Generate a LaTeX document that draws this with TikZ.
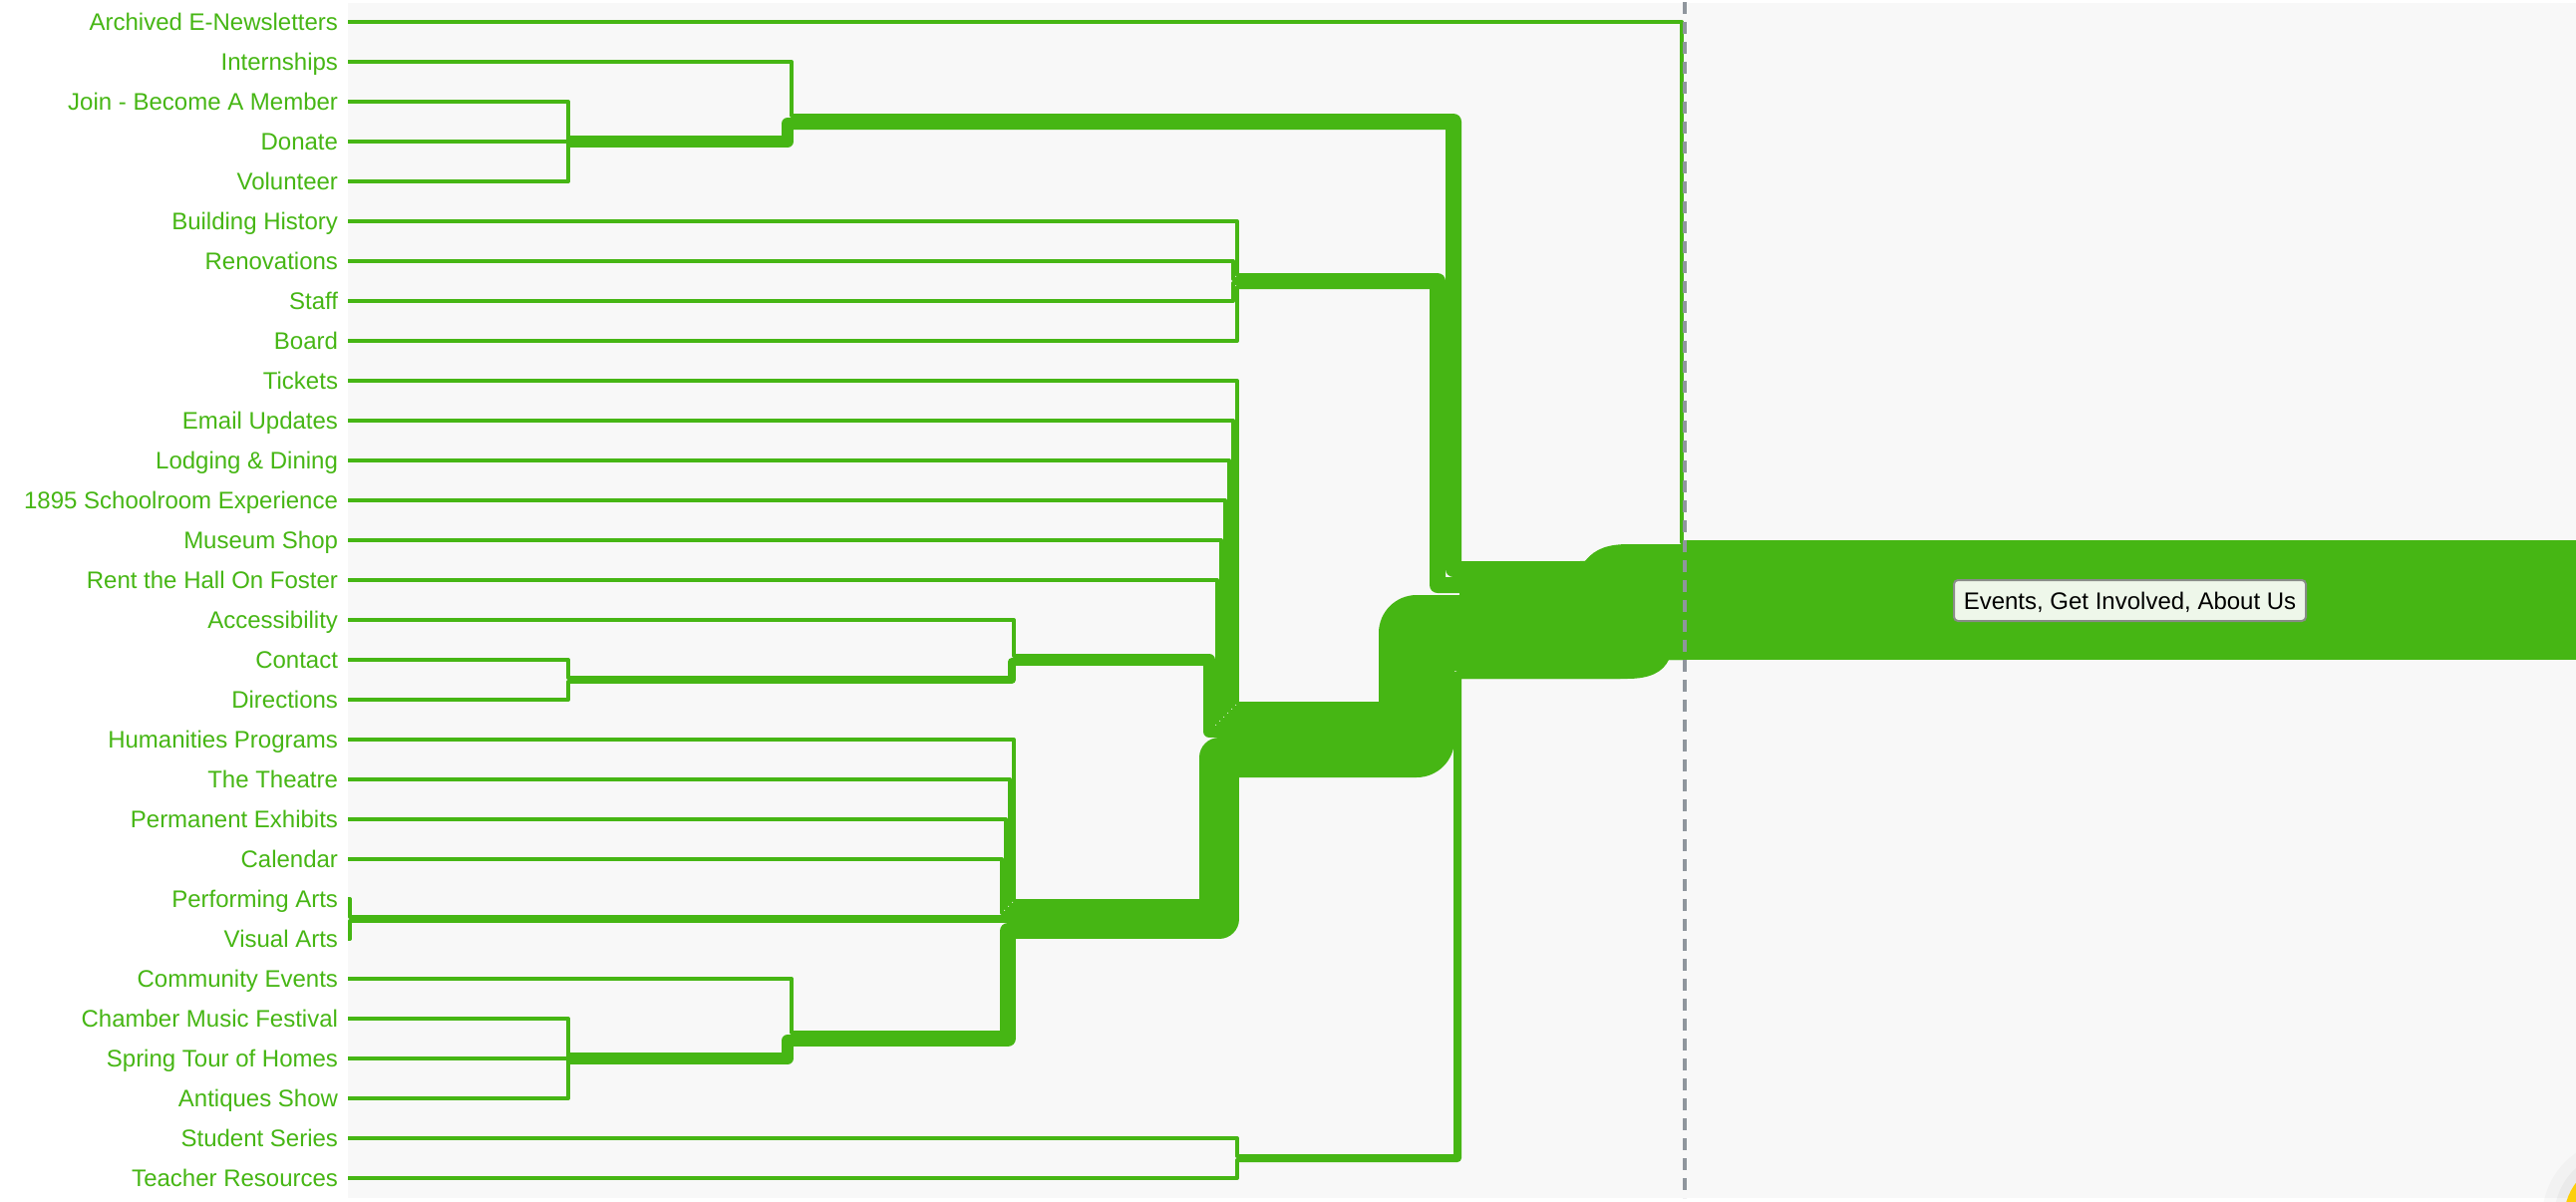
\documentclass[tikz,border=0pt]{standalone}
\usepackage{fontspec}
\setmainfont{Liberation Sans}
\usetikzlibrary{calc}
\definecolor{grn}{RGB}{70,182,20}
\definecolor{bggray}{RGB}{248,248,248}
\definecolor{dashgray}{RGB}{143,150,157}
\definecolor{boxfill}{RGB}{238,247,234}
\definecolor{boxdraw}{RGB}{136,140,136}
\definecolor{ylw}{RGB}{252,206,10}
\begin{document}
\begin{tikzpicture}[x=1pt,y=-1pt,
  lbl/.style={anchor=east, inner sep=0pt, outer xsep=10pt, outer ysep=0pt,
    text height=17.2pt, text depth=0pt, text=grn, font=\fontsize{24}{28}\selectfont},
  lk/.style={draw=grn, line width=#1, line join=round, line cap=butt},
  lk/.default=4pt]
\useasboundingbox (0,0) rectangle (2584,1205);
\fill[white] (0,0) rectangle (2584,1205);
\fill[bggray] (349,3) rectangle (2584,1202);
% corner widget
\begin{scope}
  \clip (0,0) rectangle (2584,1205);
  \fill[black,opacity=0.025] (2630,1222) circle[radius=80pt];
  \fill[black,opacity=0.03] (2630,1222) circle[radius=68pt];
  \fill[ylw] (2630,1222) circle[radius=58pt];
\end{scope}
% labels
\node[lbl] (l0) at (349,22) {Archived E-Newsletters};
\node[lbl] (l1) at (349,62) {Internships};
\node[lbl] (l2) at (349,102) {Join - Become A Member};
\node[lbl] (l3) at (349,142) {Donate};
\node[lbl] (l4) at (349,182) {Volunteer};
\node[lbl] (l5) at (349,222) {Building History};
\node[lbl] (l6) at (349,262) {Renovations};
\node[lbl] (l7) at (349,302) {Staff};
\node[lbl] (l8) at (349,342) {Board};
\node[lbl] (l9) at (349,382) {Tickets};
\node[lbl] (l10) at (349,422) {Email Updates};
\node[lbl] (l11) at (349,462) {Lodging \& Dining};
\node[lbl] (l12) at (349,502) {1895 Schoolroom Experience};
\node[lbl] (l13) at (349,542) {Museum Shop};
\node[lbl] (l14) at (349,582) {Rent the Hall On Foster};
\node[lbl] (l15) at (349,622) {Accessibility};
\node[lbl] (l16) at (349,662) {Contact};
\node[lbl] (l17) at (349,702) {Directions};
\node[lbl] (l18) at (349,742) {Humanities Programs};
\node[lbl] (l19) at (349,782) {The Theatre};
\node[lbl] (l20) at (349,822) {Permanent Exhibits};
\node[lbl] (l21) at (349,862) {Calendar};
\node[lbl] (l22) at (349,902) {Performing Arts};
\node[lbl] (l23) at (349,942) {Visual Arts};
\node[lbl] (l24) at (349,982) {Community Events};
\node[lbl] (l25) at (349,1022) {Chamber Music Festival};
\node[lbl] (l26) at (349,1062) {Spring Tour of Homes};
\node[lbl] (l27) at (349,1102) {Antiques Show};
\node[lbl] (l28) at (349,1142) {Student Series};
\node[lbl] (l29) at (349,1182) {Teacher Resources};
% internal nodes
\coordinate (nJoin) at (572,142);
\coordinate (nGI) at (796,122);
\coordinate (nAU) at (1243,282);
\coordinate (nCD) at (572,682);
\coordinate (nAcc) at (1019,662);
\coordinate (nArts) at (353,922);
\coordinate (nCMF) at (572,1062);
\coordinate (nComm) at (796,1042);
\coordinate (nHum) at (1019,922);
\coordinate (nEv) at (1243,742);
\coordinate (nST) at (1243,1162);
% root band
\node[fill=grn, draw=none, minimum width=895pt, minimum height=120pt, inner sep=0pt, anchor=west] (root) at (1689,602) {};
% thick group links
\draw[lk=76pt] (nEv) -- (1421,742) -- (1421,635) -- (1605,635) .. controls (1632,635) and (1632,616) .. (1660,616) -- ($(root.west)+(0,14)$);
\draw[lk=16pt] (nGI) -- (1458,122) -- (1458,571) -- (1585,571) .. controls (1612,571) and (1612,554) .. (1640,554) -- ($(root.west)+(0,-48)$);
\draw[lk=16pt] (nAU) -- (1442,282) -- (1442,587) -- (1595,587) .. controls (1622,587) and (1622,570) .. (1650,570) -- ($(root.west)+(0,-32)$);
\draw[lk=8pt] (nST) -- (1462,1162) -- (1462,677) -- (1625,677) .. controls (1650,677) and (1650,658) .. (1675,658) -- ($(root.west)+(0,56)$);
% merged junction into the root
\fill[grn] (1464,563) -- (1590,563) .. controls (1600,550) and (1614,546) .. (1634,546)
  -- ($(root.west)+(1,-56)$) -- ($(root.west)+(1,60)$) -- (1674,662)
  .. controls (1668,674) and (1656,681) .. (1632,681) -- (1464,681) -- cycle;
\draw[lk=40pt] (nHum) -- (1223,922) -- (1223,760) -- ($(nEv)+(0,18)$);
\draw[lk=12pt] (nAcc) -- (1213,662) -- (1213,734) -- ($(nEv)+(0,-8)$);
\draw[lk=8pt] (nCD) -- (1015,682) -- (1015,664) -- ($(nAcc)+(0,2)$);
\draw[lk=12pt] (nJoin) -- (790,142) -- (790,124) -- ($(nGI)+(0,2)$);
\draw[lk=8pt] (nArts) -- (nHum);
\draw[lk=16pt] (nComm) -- (1011,1042) -- (1011,934) -- ($(nHum)+(0,12)$);
\draw[lk=12pt] (nCMF) -- (790,1062) -- (790,1044) -- ($(nComm)+(0,2)$);
% leaf links
\draw[lk] (l0.east) -- (1687,22) -- (1687,544) -- ($(root.west)+(0,-58)$);
\draw[lk] (l1.east) -- (794,62) -- (794,116) -- ($(nGI)+(0,-6)$);
\draw[lk] (l2.east) -- (570,102) -- (570,140) -- ($(nJoin)+(0,-2)$);
\draw[lk] (l3.east) -- (nJoin);
\draw[lk] (l4.east) -- (570,182) -- (570,144) -- ($(nJoin)+(0,2)$);
\draw[lk] (l5.east) -- (1241,222) -- (1241,276) -- ($(nAU)+(0,-6)$);
\draw[lk] (l6.east) -- (1237,262) -- (1237,280) -- ($(nAU)+(0,-2)$);
\draw[lk] (l7.east) -- (1237,302) -- (1237,284) -- ($(nAU)+(0,2)$);
\draw[lk] (l8.east) -- (1241,342) -- (1241,288) -- ($(nAU)+(0,6)$);
\draw[lk] (l9.east) -- (1241,382) -- (1241,706) -- ($(nEv)+(0,-36)$);
\draw[lk] (l10.east) -- (1237,422) -- (1237,710) -- ($(nEv)+(0,-32)$);
\draw[lk] (l11.east) -- (1233,462) -- (1233,714) -- ($(nEv)+(0,-28)$);
\draw[lk] (l12.east) -- (1229,502) -- (1229,718) -- ($(nEv)+(0,-24)$);
\draw[lk] (l13.east) -- (1225,542) -- (1225,722) -- ($(nEv)+(0,-20)$);
\draw[lk] (l14.east) -- (1221,582) -- (1221,726) -- ($(nEv)+(0,-16)$);
\draw[lk] (l15.east) -- (1017,622) -- (1017,658) -- ($(nAcc)+(0,-4)$);
\draw[lk] (l16.east) -- (570,662) -- (570,680) -- ($(nCD)+(0,-2)$);
\draw[lk] (l17.east) -- (570,702) -- (570,684) -- ($(nCD)+(0,2)$);
\draw[lk] (l18.east) -- (1017,742) -- (1017,904) -- ($(nHum)+(0,-18)$);
\draw[lk] (l19.east) -- (1013,782) -- (1013,908) -- ($(nHum)+(0,-14)$);
\draw[lk] (l20.east) -- (1009,822) -- (1009,912) -- ($(nHum)+(0,-10)$);
\draw[lk] (l21.east) -- (1005,862) -- (1005,916) -- ($(nHum)+(0,-6)$);
\draw[lk] (l22.east) -- (351,902) -- (351,920) -- ($(nArts)+(0,-2)$);
\draw[lk] (l23.east) -- (351,942) -- (351,924) -- ($(nArts)+(0,2)$);
\draw[lk] (l24.east) -- (794,982) -- (794,1036) -- ($(nComm)+(0,-6)$);
\draw[lk] (l25.east) -- (570,1022) -- (570,1060) -- ($(nCMF)+(0,-2)$);
\draw[lk] (l26.east) -- (nCMF);
\draw[lk] (l27.east) -- (570,1102) -- (570,1064) -- ($(nCMF)+(0,2)$);
\draw[lk] (l28.east) -- (1241,1142) -- (1241,1160) -- ($(nST)+(0,-2)$);
\draw[lk] (l29.east) -- (1241,1182) -- (1241,1164) -- ($(nST)+(0,2)$);
% divider
\coordinate (dtop) at (1690,2);
\coordinate (dbot) at (1690,1202);
\draw[dashgray, line width=4pt, dash pattern=on 12pt off 8pt] (dtop) -- (dbot);
% root label
\node[draw=boxdraw, line width=2pt, fill=boxfill, rounded corners=4pt,
  minimum width=353pt, minimum height=41pt, inner sep=0pt,
  text height=17.2pt, text depth=0pt, font=\fontsize{24}{28}\selectfont] (rootlbl) at (2136.5,602.5) {Events, Get Involved, About Us};
\end{tikzpicture}
\end{document}
